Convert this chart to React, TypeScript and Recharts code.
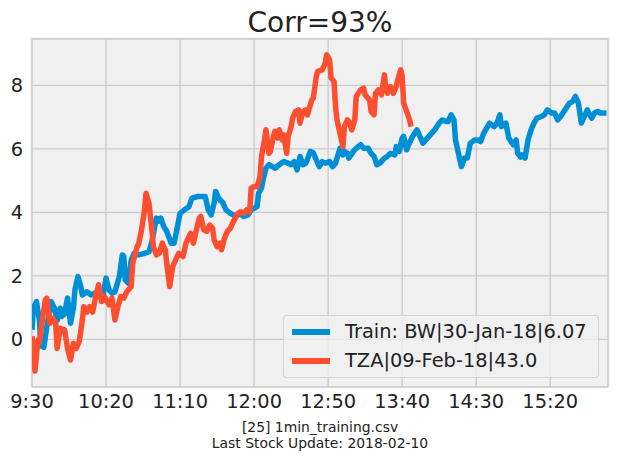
import { LineChart, Line, XAxis, YAxis, CartesianGrid } from 'recharts';

// minutes since 9:30 and normalised values
const trainMinutes = [
  0, 1, 3, 5, 6, 8, 10, 13, 15, 17, 19, 20, 22, 24, 26, 28, 29, 31, 33, 34,
  37, 40, 42, 45, 48, 50, 52, 54, 56, 59, 61, 62, 63, 65, 67, 69, 72, 76, 79, 81,
  84, 85, 87, 89, 91, 94, 96, 98, 100, 103, 106, 108, 112, 115, 117, 119, 121, 123, 124, 126,
  129, 131, 134, 138, 140, 143, 146, 148, 150, 152, 153, 155, 156, 158, 160, 164, 167, 170, 173, 175,
  177, 179, 181, 183, 185, 188, 190, 192, 194, 196, 198, 201, 203, 205, 207, 208, 210, 211, 213, 214,
  217, 219, 222, 224, 227, 229, 231, 233, 235, 238, 240, 242, 245, 246, 248, 250, 251, 253, 254, 257,
  260, 264, 267, 272, 275, 277, 280, 281, 283, 285, 286, 288, 290, 292, 294, 296, 299, 301, 303, 305,
  309, 312, 314, 316, 317, 320, 322, 325, 327, 328, 330, 331, 333, 335, 337, 339, 341, 344, 346, 348,
  351, 353, 355, 357, 360, 363, 365, 367, 369, 371, 373, 375, 376, 378, 380, 382, 384, 388,
];
const trainValues = [
  0.3, 1.0, 1.19, 0.61, -0.2, -0.25, 0.4, 1.19, 1.0, 0.6, 0.98, 0.72, 0.8, 1.3, 0.51, 1.0, 1.56, 1.98, 1.66, 1.4,
  1.5, 1.4, 1.45, 1.35, 1.4, 1.93, 1.56, 1.45, 1.5, 1.98, 2.66, 2.61, 1.87, 1.77, 2.5, 2.71, 2.66, 2.71, 2.76, 3.08,
  3.82, 3.71, 3.82, 3.55, 3.4, 3.03, 3.03, 3.5, 3.97, 4.08, 4.18, 4.45, 4.5, 4.5, 4.5, 4.08, 3.92, 4.29, 4.66, 4.45,
  4.29, 4.08, 3.97, 3.87, 3.97, 3.87, 3.92, 4.08, 4.13, 4.18, 4.6, 4.76, 5.02, 5.39, 5.5, 5.39, 5.5, 5.6, 5.55, 5.5,
  5.6, 5.34, 5.76, 5.5, 5.55, 5.92, 5.87, 5.65, 5.44, 5.6, 5.55, 5.6, 5.44, 5.55, 5.86, 6.02, 5.81, 5.92, 5.86, 5.71,
  5.92, 6.02, 6.13, 6.02, 6.02, 5.86, 5.76, 5.5, 5.55, 5.71, 5.76, 5.86, 5.81, 6.07, 5.92, 6.34, 6.39, 5.97, 6.1, 6.39,
  6.6, 6.18, 6.34, 6.6, 6.81, 6.91, 6.86, 6.86, 7.07, 6.91, 6.28, 5.86, 5.44, 5.71, 5.71, 6.18, 6.28, 6.28, 6.23, 6.49,
  6.81, 6.7, 6.81, 7.07, 6.7, 6.81, 6.34, 6.13, 6.28, 5.86, 5.74, 5.81, 5.71, 6.28, 6.6, 6.81, 6.97, 7.02, 7.07, 7.23,
  7.13, 7.13, 6.91, 7.02, 7.23, 7.44, 7.49, 7.65, 7.44, 6.81, 7.02, 7.23, 7.13, 6.97, 7.13, 7.18, 7.13, 7.13,
];

const tzaMinutes = [
  0, 2, 4, 5, 7, 9, 10, 12, 14, 16, 17, 19, 22, 24, 26, 28, 30, 32, 34, 35,
  37, 39, 41, 43, 45, 47, 49, 52, 54, 56, 58, 60, 62, 64, 67, 68, 71, 72, 74, 76,
  77, 79, 81, 82, 84, 86, 88, 90, 91, 93, 95, 97, 99, 102, 104, 105, 107, 109, 111, 113,
  114, 116, 118, 120, 122, 123, 125, 127, 128, 130, 132, 134, 136, 139, 141, 143, 145, 147, 148, 150,
  152, 154, 155, 157, 158, 160, 161, 163, 164, 166, 167, 169, 170, 172, 173, 175, 176, 178, 180, 181,
  183, 185, 186, 188, 189, 190, 192, 193, 196, 198, 199, 201, 202, 204, 205, 206, 208, 210, 211, 213,
  214, 216, 218, 219, 222, 224, 225, 228, 229, 231, 232, 234, 236, 238, 239, 240, 242, 244, 246, 247,
  249, 250, 251, 253, 255, 256,
];
const tzaValues = [
  0.1, -1.0, -0.02, -0.1, 0.61, 1.24, 1.3, 0.51, 0.66, 0.51, -0.28, 0.35, 0.3, -0.28, -0.65, -0.12, -0.28, -0.05, 0.61, 1.03,
  0.86, 1.03, 0.86, 1.35, 1.72, 1.19, 1.35, 1.09, 1.3, 0.61, 1.03, 1.35, 1.3, 1.5, 1.66, 2.4, 2.92, 3.0, 3.45, 4.08,
  4.6, 4.29, 3.45, 2.92, 2.66, 2.71, 3.03, 2.82, 2.4, 1.66, 2.29, 2.5, 2.71, 2.61, 3.03, 3.13, 3.34, 3.03, 3.45, 3.82,
  3.87, 3.45, 3.4, 3.6, 3.5, 3.13, 2.92, 3.03, 2.82, 3.19, 3.4, 3.5, 3.71, 3.97, 4.02, 3.97, 4.08, 4.02, 4.76, 4.81,
  4.81, 5.13, 5.76, 6.28, 6.6, 5.86, 5.92, 6.39, 6.55, 6.34, 6.6, 6.28, 6.44, 5.86, 6.39, 6.7, 6.97, 7.18, 7.23, 6.81,
  7.18, 7.23, 7.07, 7.39, 7.54, 7.6, 8.28, 8.44, 8.49, 8.7, 8.96, 8.8, 8.23, 8.12, 7.33, 6.91, 6.49, 6.07, 6.7, 6.91,
  6.86, 6.6, 6.91, 7.65, 7.86, 7.91, 7.7, 7.54, 7.18, 7.07, 7.75, 7.86, 7.7, 8.33, 7.86, 7.75, 7.96, 7.75, 7.96, 8.17,
  8.49, 8.28, 7.44, 7.18, 6.91, 6.7,
];

const xTicks = [0, 50, 100, 150, 200, 250, 300, 350];
const xTickLabels = ['9:30', '10:20', '11:10', '12:00', '12:50', '13:40', '14:30', '15:20'];
const yTicks = [0, 2, 4, 6, 8];

const seriesNames = ['Train: BW|30-Jan-18|6.07', 'TZA|09-Feb-18|43.0'];
const seriesColors = ['#008fd5', '#fc4f30'];

const trainData = trainMinutes.map((t, i) => ({ t, v: trainValues[i] }));
const tzaData = tzaMinutes.map((t, i) => ({ t, v: tzaValues[i] }));

const FONT = '"DejaVu Sans", sans-serif';

export default function App() {
  return (
    <div style={{ position: 'absolute', left: 0, top: 0, width: 617, height: 458, background: '#fff', fontFamily: FONT }}>
      {/* grey axes patch, a touch larger than the plot area like the mpl edge */}
      <div style={{ position: 'absolute', left: 30, top: 37, width: 580, height: 351, background: '#f0f0f0' }} />
      <LineChart
        width={617}
        height={458}
        margin={{ top: 39, right: 9, bottom: 0, left: 0 }}
        style={{ position: 'absolute', left: 0, top: 0 }}
      >
        <CartesianGrid stroke="#cbcbcb" strokeWidth={1.4} />
        <XAxis
          type="number"
          dataKey="t"
          domain={[0, 389]}
          ticks={xTicks}
          tickFormatter={(v: number) => xTickLabels[xTicks.indexOf(v)]}
          axisLine={false}
          tickLine={false}
          tickSize={0}
          tickMargin={7}
          height={71}
          tick={{ fill: '#222', fontSize: 19.4, fontFamily: FONT }}
          allowDataOverflow
        />
        <YAxis
          type="number"
          domain={[-1.5, 9.46]}
          ticks={yTicks}
          axisLine={false}
          tickLine={false}
          tickSize={0}
          tickMargin={9}
          width={32}
          tick={{ fill: '#222', fontSize: 19.4, fontFamily: FONT }}
          allowDataOverflow
        />
        <Line
          data={trainData}
          dataKey="v"
          stroke={seriesColors[0]}
          strokeWidth={5.5}
          strokeLinejoin="round"
          dot={false}
          isAnimationActive={false}
        />
        <Line
          data={tzaData}
          dataKey="v"
          stroke={seriesColors[1]}
          strokeWidth={5.5}
          strokeLinejoin="round"
          dot={false}
          isAnimationActive={false}
        />
      </LineChart>

      <svg width={617} height={458} style={{ position: 'absolute', left: 0, top: 0, pointerEvents: 'none' }}>
        <text x={320} y={32} textAnchor="middle" fontSize={28} fill="#222" fontFamily={FONT}>
          Corr=93%
        </text>
        <text x={320} y={432} textAnchor="middle" fontSize={13.9} fill="#222" fontFamily={FONT}>
          [25] 1min_training.csv
        </text>
        <text x={320} y={448} textAnchor="middle" fontSize={13.9} fill="#222" fontFamily={FONT}>
          Last Stock Update: 2018-02-10
        </text>
      </svg>

      <div
        style={{
          position: 'absolute',
          left: 283,
          top: 315,
          width: 314,
          height: 61,
          background: 'rgba(240,240,240,0.8)',
          border: '1px solid rgba(204,204,204,0.8)',
          borderRadius: 4,
        }}
      >
        {seriesNames.map((name, i) => (
          <div
            key={name}
            style={{
              position: 'absolute',
              left: 8,
              top: 4 + i * 29,
              height: 24,
              display: 'flex',
              alignItems: 'center',
              whiteSpace: 'nowrap',
            }}
          >
            <span style={{ display: 'inline-block', width: 38, height: 5.5, background: seriesColors[i], marginRight: 15 }} />
            <span style={{ fontSize: 19.4, color: '#222', lineHeight: '24px' }}>{name}</span>
          </div>
        ))}
      </div>
    </div>
  );
}
